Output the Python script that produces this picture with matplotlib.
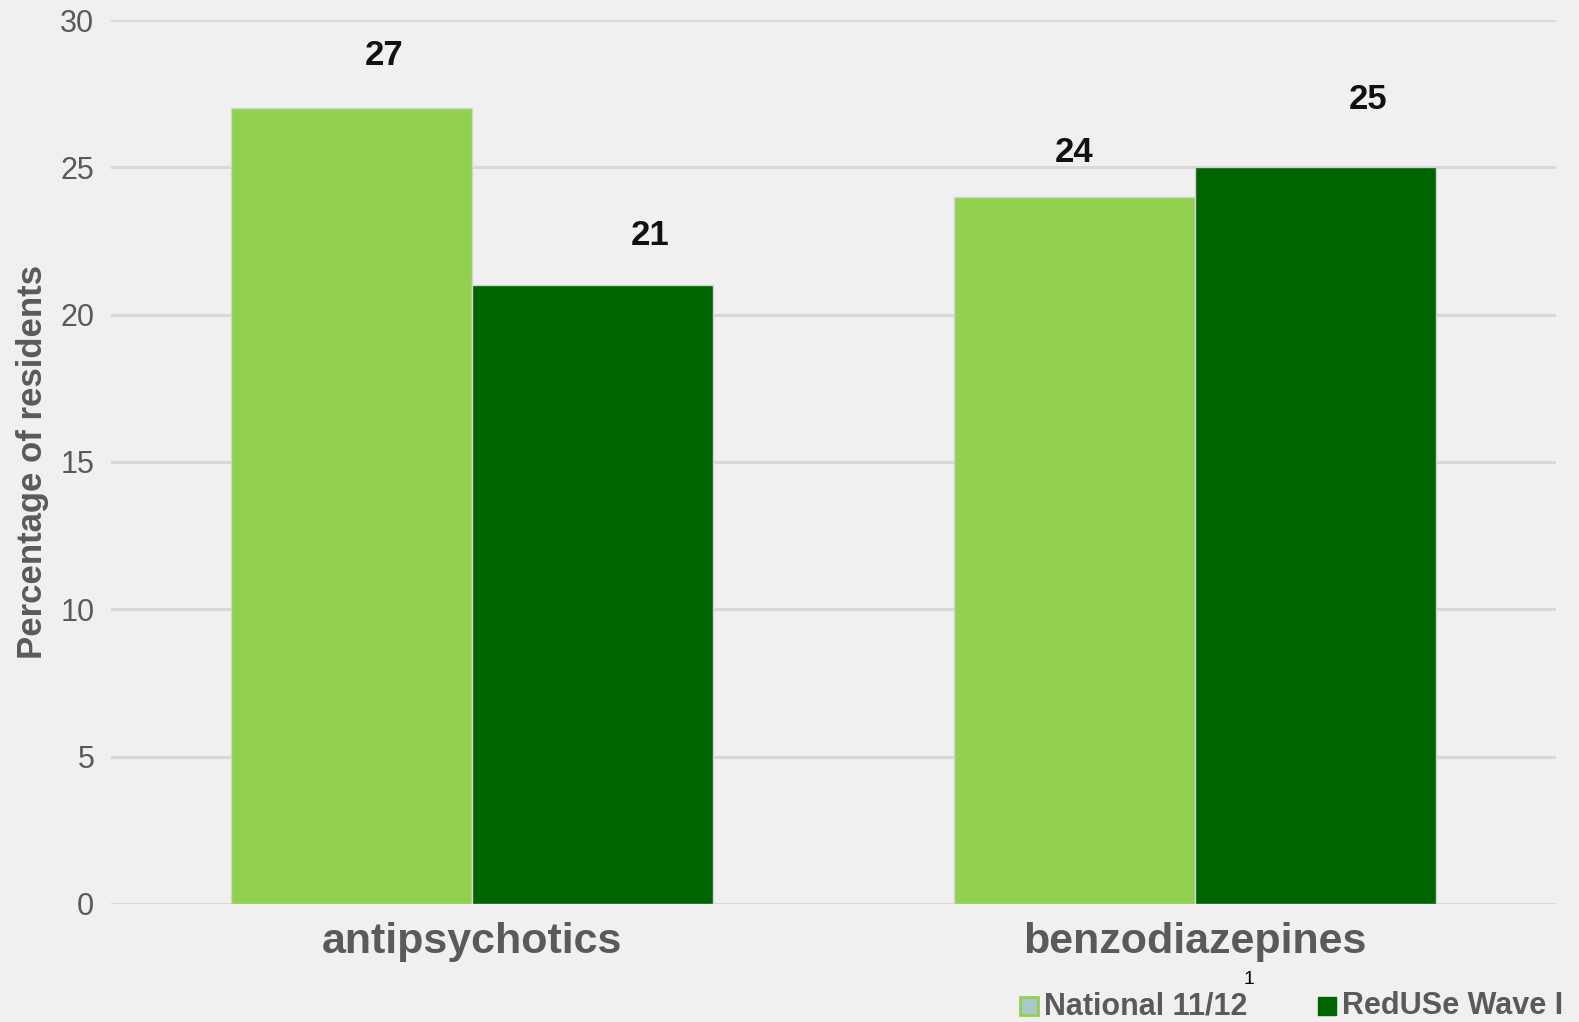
import numpy as np
import matplotlib.pyplot as plt
from matplotlib.patches import Rectangle

# drug classes and the share of residents on each
categories = ['antipsychotics', 'benzodiazepines']
national = [27, 24]
reduse = [21, 25]
series_names = ['National 11/12', 'RedUSe Wave I']

light_green = '#92d050'
dark_green = '#006400'
bg = '#f0f0f0'
grey_text = '#5a5a5a'

plt.rcParams['font.family'] = ['Liberation Sans', 'DejaVu Sans']

fig = plt.figure(figsize=(15.79, 10.22), dpi=100, facecolor=bg)
ax = fig.add_axes([0.0703, 0.1155, 0.9151, 0.8649], facecolor=bg)

x = np.arange(len(categories))
w = 1 / 3
b1 = ax.bar(x - w / 2, national, w, color=light_green, edgecolor='#d4d4d4', linewidth=1, zorder=3)
b2 = ax.bar(x + w / 2, reduse, w, color=dark_green, edgecolor='#d4d4d4', linewidth=1, zorder=3)

# value labels sit a little off-centre above each bar
label_dx = [[0.044, 0.0], [0.079, 0.073]]
label_dy = [1.8, 1.5, 1.7, 2.3]
for s, bars in enumerate([b1, b2]):
    for j, rect in enumerate(bars):
        h = rect.get_height()
        ax.text(rect.get_x() + rect.get_width() / 2 + label_dx[s][j], h + label_dy[s * 2 + j],
                f'{h:g}', ha='center', va='center', fontsize=25, fontweight='bold',
                family=['Liberation Sans Narrow', 'Liberation Sans', 'DejaVu Sans'],
                color='#111111', zorder=4)

ax.set_xlim(-0.5, 1.5)
ax.set_ylim(0, 30)
ax.set_yticks(range(0, 31, 5))
ax.yaxis.grid(True, color='#d8d8d8', linewidth=2.2, zorder=0)
ax.set_axisbelow(True)
for sp in ax.spines.values():
    sp.set_visible(False)
ax.tick_params(axis='both', length=0)
ax.tick_params(axis='y', labelsize=22, labelcolor=grey_text, pad=12)
ax.set_xticks(x)
ax.set_xticklabels(categories, fontsize=31, fontweight='bold', color=grey_text)
ax.tick_params(axis='x', pad=13)
ax.set_ylabel('Percentage of residents', fontsize=25, fontweight='bold', color=grey_text, labelpad=8)

# legend along the bottom edge
W, H = 1579, 1022
def fx(px):
    return px / W
def fy(py):
    return 1 - py / H

fig.patches.append(Rectangle((fx(1020), fy(1015)), fx(18), 18 / H, transform=fig.transFigure,
                             facecolor='#a8c8cc', edgecolor=light_green, linewidth=2))
fig.text(fx(1044), fy(1006), series_names[0], fontsize=22, fontweight='bold', color=grey_text,
         ha='left', va='center')
fig.patches.append(Rectangle((fx(1318), fy(1015)), fx(18), 18 / H, transform=fig.transFigure,
                             facecolor=dark_green, edgecolor=dark_green, linewidth=1))
fig.text(fx(1342), fy(1006), series_names[1], fontsize=22, fontweight='bold', color=grey_text,
         ha='left', va='center')
fig.text(fx(1249), fy(980), '1', fontsize=14, color='black', ha='center', va='center')

fig.savefig('out.png', dpi=100, facecolor=bg)
